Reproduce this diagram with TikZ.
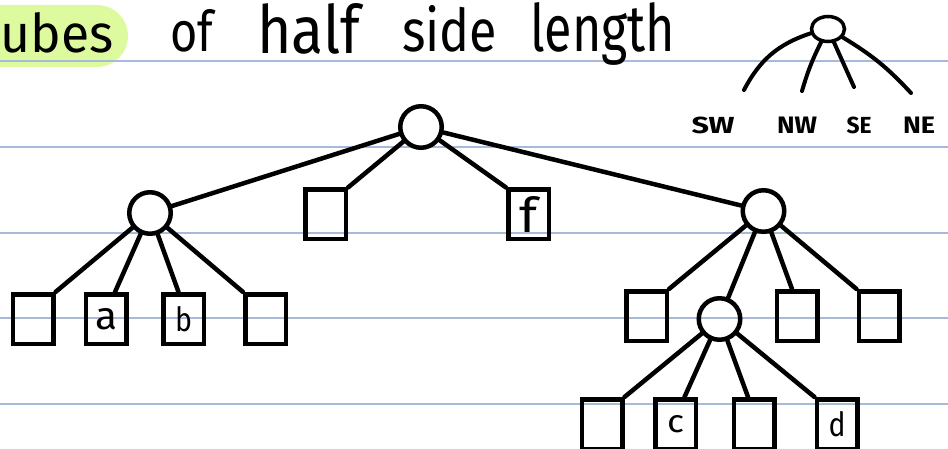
\documentclass[tikz,border=0pt]{standalone}
\usepackage{fontspec}
\setmainfont{Fira Sans}
\usepackage{graphicx}
\usetikzlibrary{shapes.geometric}
\definecolor{rulecol}{RGB}{168,186,218}
\definecolor{hlcol}{RGB}{222,250,158}
\newcommand{\fitbox}[3]{\resizebox{#1pt}{#2pt}{#3}}
\newcommand{\fitboxt}[3]{\resizebox*{#1pt}{#2pt}{#3}}
\begin{document}
\begin{tikzpicture}[x=1pt,y=-1pt,
  edge/.style={line width=4.5pt, line cap=round},
  ledge/.style={line width=4pt, line cap=round},
  inode/.style={circle, draw, line width=4.5pt, minimum size=41.5pt, inner sep=0pt},
  leaf/.style={rectangle, draw, line width=4.5pt, minimum width=40.5pt, minimum height=49.5pt, inner sep=0pt},
  word/.style={anchor=base west, inner sep=0pt},
  lbl/.style={inner sep=0pt},
  rulestyle/.style={rulecol, line width=1.5pt}]
\useasboundingbox (0,0) rectangle (948,449);
% highlight and ruled lines
\fill[hlcol, rounded corners=31pt] (-40,5) rectangle (128,67);
\foreach \yy in {61,147,233,318,404} \draw[rulestyle] (0,\yy) -- (948,\yy);
% title
\node[word] (t1) at (0.5,53) {\fitbox{113}{40}{ubes}};
\node[word] (t2) at (170,52) {\fitbox{43}{42}{of}};
\node[word] (t3) at (257,54) {\fitbox{103}{50}{half}};
\node[word] (t4) at (402,52) {\fitbox{95}{46}{side}};
\node[word] (t5) at (530,52) {\fitbox{145}{49}{length}};
% legend
\node[ellipse, draw, line width=3.5pt, minimum width=33pt, minimum height=25pt, inner sep=0pt] (lg) at (828,29) {};
\coordinate (swE) at (744,90);
\coordinate (nwE) at (802,91);
\coordinate (seE) at (854,87);
\coordinate (neE) at (911,93);
\draw[ledge] (lg) to[bend right=22] (swE);
\draw[ledge] (lg) to[bend right=5] (nwE);
\draw[ledge] (lg) -- (seE);
\draw[ledge] (lg) to[bend left=8] (neE);
\node[lbl] (lsw) at (713,125) {\fitbox{43}{16.5}{\bfseries SW}};
\node[lbl] (lnw) at (797,125) {\fitbox{40}{16.5}{\bfseries NW}};
\node[lbl] (lse) at (859,125) {\fitbox{25}{16.5}{\bfseries SE}};
\node[lbl] (lne) at (919,125) {\fitbox{32}{16.5}{\bfseries NE}};
% tree nodes
\node[inode] (R) at (421,127) {};
\node[inode] (L) at (150,213) {};
\node[leaf] (E1) at (325.5,214.5) {};
\node[leaf] (F) at (528.5,214.5) {\fitboxt{18}{36}{f}};
\node[inode] (Rc) at (763.5,211) {};
\node[leaf] (A1) at (33,319) {};
\node[leaf] (Aa) at (106,319) {\fitbox{22}{21}{a}};
\node[leaf] (Ab) at (183.5,319) {\fitbox{17}{25}{b}};
\node[leaf] (A4) at (265.5,319) {};
\node[leaf] (RS1) at (646.5,316) {};
\node[inode] (I) at (719.5,319) {};
\node[leaf] (RNW) at (797,316) {};
\node[leaf] (RNE) at (879,316) {};
\node[leaf] (B1) at (602,424) {};
\node[leaf] (Bc) at (675.5,424) {\fitbox{17}{17}{c}};
\node[leaf] (B3) at (754,424) {};
\node[leaf] (Bd) at (837,424) {\fitbox{17}{25}{d}};
% edges
\draw[edge] (R) -- (L);
\draw[edge] (R) -- (E1.north east);
\draw[edge] (R) -- (F.north west);
\draw[edge] (R) -- (Rc);
\draw[edge] (L) -- (A1.north east);
\draw[edge] (L) -- ([xshift=9pt]Aa.north);
\draw[edge] (L) -- ([xshift=-5pt]Ab.north);
\draw[edge] (L) -- (A4.north west);
\draw[edge] (Rc) -- (RS1.north east);
\draw[edge] (Rc) -- (I);
\draw[edge] (Rc) -- ([xshift=-5pt]RNW.north);
\draw[edge] (Rc) -- (RNE.north west);
\draw[edge] (I) -- (B1.north east);
\draw[edge] (I) -- ([xshift=9pt]Bc.north);
\draw[edge] (I) -- ([xshift=-6pt]B3.north);
\draw[edge] (I) -- (Bd.north west);
\end{tikzpicture}
\end{document}
